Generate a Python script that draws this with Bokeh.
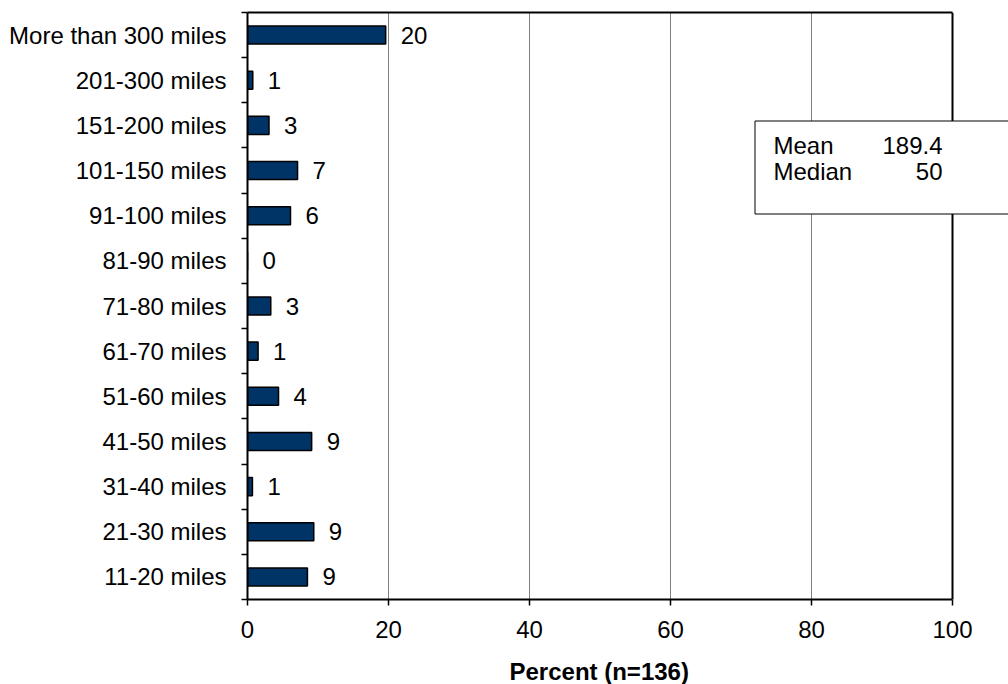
from bokeh.plotting import figure
from bokeh.models import FixedTicker, BoxAnnotation, Label, Range1d, ColumnDataSource, LinearAxis, Span, Title
from bokeh.core.properties import value
from bokeh.embed import file_html
from bokeh.resources import INLINE

categories = ["11-20 miles", "21-30 miles", "31-40 miles", "41-50 miles",
              "51-60 miles", "61-70 miles", "71-80 miles", "81-90 miles",
              "91-100 miles", "101-150 miles", "151-200 miles", "201-300 miles",
              "More than 300 miles"]
percent = [8.5, 9.4, 0.7, 9.1, 4.4, 1.5, 3.3, 0.0, 6.1, 7.1, 3.05, 0.75, 19.6]
bar_labels = ["9", "9", "1", "9", "4", "1", "3", "0", "6", "7", "3", "1", "20"]
x_ticks = [0, 20, 40, 60, 80, 100]
stat_names = ["Mean", "Median"]
stat_values = ["189.4", "50"]
x_title = "Percent (n=136)"

FONT = "Liberation Sans"
n = len(categories)
pos = [i + 0.5 for i in range(n)]

PX_PER_UNIT = 7.05          # 100 % spans 705 px
BORDER_LEFT = 247
FRAME_W = 1008 - BORDER_LEFT  # frame runs on to the right edge of the page
FRAME_H = 587
x_end = FRAME_W / PX_PER_UNIT
PX_PER_ROW = FRAME_H / n

src = ColumnDataSource(dict(y=pos, v=percent, lab=bar_labels))

p = figure(frame_width=FRAME_W, frame_height=FRAME_H,
           min_border_left=BORDER_LEFT, min_border_right=0,
           min_border_top=12, min_border_bottom=77,
           x_range=Range1d(0, x_end), y_range=Range1d(0, n),
           output_backend="svg", toolbar_location=None,
           background_fill_color="white", border_fill_color="white")

p.outline_line_color = None

# grid
p.ygrid.visible = False
p.xgrid.ticker = FixedTicker(ticks=x_ticks[1:-1])
p.xgrid.grid_line_color = "#808080"
p.xgrid.grid_line_width = 1

# bars
p.hbar(y="y", right="v", left=0, height=0.4, source=src,
       fill_color="#003366", line_color="black", line_width=1.5)

p.text(x="v", y="y", text="lab", source=src, x_offset=15,
       text_baseline="middle", text_align="left",
       text_font=value(FONT), text_font_size="24px", text_color="black")

# x axis
xa = p.xaxis[0]
xa.ticker = FixedTicker(ticks=x_ticks)
xa.bounds = (x_ticks[0], x_ticks[-1])
xa.axis_line_color = "black"
xa.axis_line_width = 2
xa.major_tick_out = 6
xa.major_tick_in = 0
xa.major_tick_line_color = "black"
xa.major_tick_line_width = 1.5
xa.minor_tick_line_color = None
xa.major_label_text_font = FONT
xa.major_label_text_font_size = "24px"
xa.major_label_text_color = "black"
xa.major_label_standoff = 15

# x-axis title, placed under the centre of the 0..100 scale
p.add_layout(Title(text=x_title, align="left", offset=262, standoff=32,
                   vertical_align="middle", text_font=FONT,
                   text_font_size="24px", text_font_style="bold",
                   text_color="black"), "below")

# top border of the plot area (0..100 only)
top = LinearAxis(ticker=FixedTicker(ticks=[]), bounds=(x_ticks[0], x_ticks[-1]),
                 axis_line_color="black", axis_line_width=2,
                 major_tick_line_color=None, minor_tick_line_color=None,
                 major_label_text_font_size="0px")
p.add_layout(top, "above")

# right border of the plot area at 100 %
p.add_layout(Span(location=x_ticks[-1], dimension="height",
                  line_color="black", line_width=2))

# y axis (categories at band centres, ticks at band boundaries)
ya = p.yaxis[0]
ya.ticker = FixedTicker(ticks=pos, minor_ticks=list(range(n + 1)))
ya.major_label_overrides = {pp: c for pp, c in zip(pos, categories)}
ya.axis_line_color = "black"
ya.axis_line_width = 2
ya.major_tick_out = 0
ya.major_tick_in = 0
ya.minor_tick_out = 6
ya.minor_tick_in = 0
ya.minor_tick_line_color = "black"
ya.minor_tick_line_width = 1.5
ya.major_label_text_font = FONT
ya.major_label_text_font_size = "24px"
ya.major_label_text_color = "black"
ya.major_label_standoff = 15

# pixel positions converted to data units
def dx(px):
    return (px - BORDER_LEFT) / PX_PER_UNIT

def dy(px):
    return n - (px - 12) / PX_PER_ROW

# statistics box
box = BoxAnnotation(left=dx(754.5), right=x_end + 20, top=dy(120.5), bottom=dy(213.5),
                    fill_color="white", fill_alpha=1.0,
                    line_color="black", line_alpha=1.0, line_width=1)
p.add_layout(box)

name_x = dx(773)
val_x = dx(942)
base_y = [dy(145), dy(171)]
for nm, vl, yy in zip(stat_names, stat_values, base_y):
    p.add_layout(Label(x=name_x, y=yy, text=nm, text_font=FONT,
                       text_font_size="24px", text_color="black",
                       text_baseline="alphabetic", text_align="left"))
    p.add_layout(Label(x=val_x, y=yy, text=vl, text_font=FONT,
                       text_font_size="24px", text_color="black",
                       text_baseline="alphabetic", text_align="right"))

open("out.html", "w").write(file_html(p, INLINE))
